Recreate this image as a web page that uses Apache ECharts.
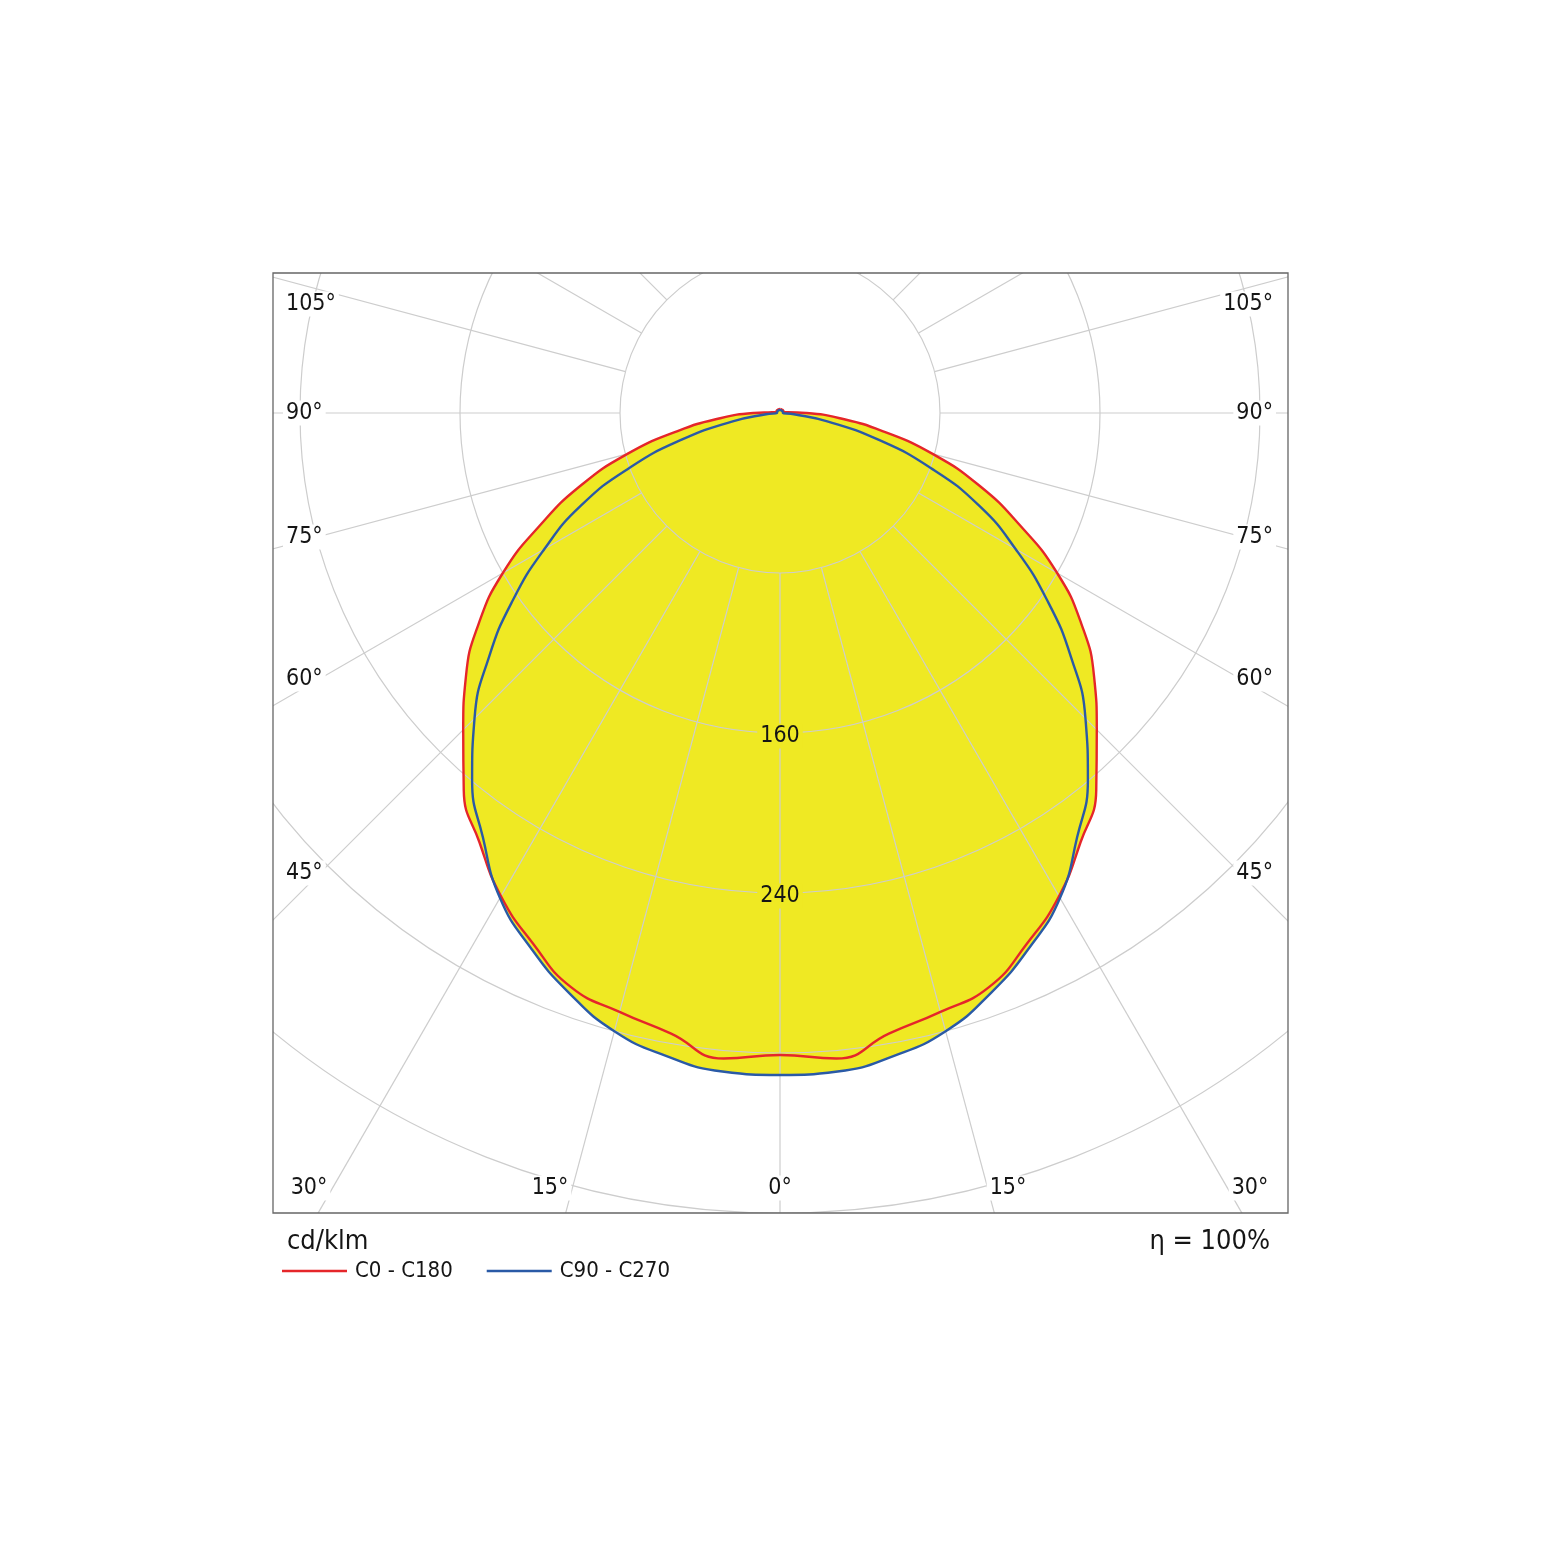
<!DOCTYPE html>
<html>
<head>
<meta charset="utf-8">
<script src="https://cdn.jsdelivr.net/npm/echarts@6/dist/echarts.min.js"></script>
<style>
html,body{margin:0;padding:0;background:#fff;}
#c{width:1560px;height:1561px;}
</style>
</head>
<body>
<div id="c"></div>
<script>
// ---- data (cd/klm) ----
const angles = [0,5,10,15,20,25,30,35,40,45,50,55,60,65,70,75,80,85,90,95,100,105,110,115,120,125,130,135,140,145,150,155,160,165,170,175,180];
const c0c180 = [321,324,315,310,305.5,292.5,279,262,246,224,205,184,160,132,106,79,52,30,13,4,2,2,2,2,2,2,2,2,2,2,2,2,2,2,2,2,2];
const c90c270 = [331,330.5,326.5,320,308.5,295,280,259,239.5,216,190,163,136,110,80,50,24,7,1.5,1.5,1.5,1.5,1.5,1.5,1.5,1.5,1.5,1.5,1.5,1.5,1.5,1.5,1.5,1.5,1.5,1.5,1.5];
const seriesNames = ['C0 - C180', 'C90 - C270'];
const spokeAngles = [0,15,30,45,60,75,90,105,120,135,150,165,180,195,210,225,240,255,270,285,300,315,330,345];
const spokeRange = [80, 480];
const radiusLabels = [160, 240];
const sideLabels = ['105°','90°','75°','60°','45°'];
const bottomLabels = ['30°','15°','0°','15°','30°'];
const unitLabel = 'cd/klm';
const effLabel = 'η = 100%';

// ---- layout / style ----
const FONT = '"DejaVu Sans Condensed","Liberation Sans",sans-serif';
const YELLOW = '#EFE923';
const RED = '#E5262A';
const BLUE = '#2A5AA6';
const GRID = '#CDCDCD';
const TXT = '#151515';
const FRAME = {x:273, y:273, w:1015, h:940};
const sideY = [304,413,537,679,873];
const bottomX = [309,550,780,1008,1250];

function closed(vals){
  const pts = [];
  for (let i = angles.length - 1; i >= 0; i--) pts.push([vals[i], angles[i]]);
  for (let i = 1; i < angles.length; i++) pts.push([vals[i], -angles[i]]);
  return pts;
}

const chart = echarts.init(document.getElementById('c'), null, {renderer:'canvas'});

const series = [];
[c0c180, c90c270].forEach((v, k) => {
  series.push({
    name: 'fill' + k, type: 'line', coordinateSystem: 'polar',
    data: closed(v), smooth: 0.5, symbol: 'none', silent: true,
    lineStyle: {width: 0, opacity: 0},
    areaStyle: {color: YELLOW, opacity: 1},
    z: 1
  });
});
spokeAngles.forEach(a => {
  series.push({
    name: 'spoke' + a, type: 'line', coordinateSystem: 'polar',
    data: [[spokeRange[0], a], [spokeRange[1], a]],
    symbol: 'none', silent: true,
    lineStyle: {color: GRID, width: 1.2},
    z: 3
  });
});
[c0c180, c90c270].forEach((v, k) => {
  const col = k === 0 ? RED : BLUE;
  series.push({
    name: seriesNames[k], type: 'line', coordinateSystem: 'polar',
    data: closed(v), smooth: 0.5, symbol: 'none',
    lineStyle: {color: col, width: 2.4},
    itemStyle: {color: col},
    z: 5
  });
});

chart.setOption({
  animation: false,
  backgroundColor: '#fff',
  polar: {center: [780, 413], radius: 960},
  angleAxis: {
    type: 'value', min: 0, max: 360, startAngle: 270, clockwise: true,
    axisLine: {show: false}, axisTick: {show: false}, axisLabel: {show: false},
    splitLine: {show: false}
  },
  radiusAxis: {
    type: 'value', min: 0, max: 480, interval: 80, z: 3,
    axisLine: {show: false}, axisTick: {show: false}, axisLabel: {show: false},
    splitLine: {show: true, lineStyle: {color: GRID, width: 1.2}}
  },
  legend: {
    data: seriesNames, left: 282, top: 1260, orient: 'horizontal', padding: 0,
    icon: 'rect', itemWidth: 65, itemHeight: 2.5, itemGap: 34,
    selectedMode: false, z: 30,
    textStyle: {fontFamily: FONT, fontSize: 22, color: TXT, padding: [0,0,0,3]}
  },
  series: series
});

// ---- overlay graphics (covers, frame, labels) ----
const g = [];
g.push({type:'rect', shape:{x:0, y:0, width:1560, height:FRAME.y}, style:{fill:'#fff'}, z:20, silent:true});
g.push({type:'rect', shape:{x:0, y:FRAME.y+FRAME.h, width:1560, height:1561-FRAME.y-FRAME.h}, style:{fill:'#fff'}, z:20, silent:true});
g.push({type:'rect', shape:{x:0, y:0, width:FRAME.x, height:1561}, style:{fill:'#fff'}, z:20, silent:true});
g.push({type:'rect', shape:{x:FRAME.x+FRAME.w, y:0, width:1560-FRAME.x-FRAME.w, height:1561}, style:{fill:'#fff'}, z:20, silent:true});
g.push({type:'rect', shape:{x:FRAME.x, y:FRAME.y, width:FRAME.w, height:FRAME.h}, style:{fill:null, stroke:'#666', lineWidth:1.3}, z:21, silent:true});

function label(text, x, y, align, bg){
  return {type:'text', z:22, silent:true,
    style:{text:text, x:x, y:y, align:align, verticalAlign:'middle',
      font:'23px ' + FONT, fill:TXT, backgroundColor:bg, padding:[1,3]}};
}
sideLabels.forEach((t, i) => {
  g.push(label(t, 283, sideY[i], 'left', '#fff'));
  g.push(label(t, 1276, sideY[i], 'right', '#fff'));
});
bottomLabels.forEach((t, i) => g.push(label(t, bottomX[i], 1188, 'center', '#fff')));

radiusLabels.forEach(v => {
  let p = chart.convertToPixel({seriesIndex: 0}, [v, 0]);
  if (!p) p = [780, 413 + v * 2];
  g.push(label(String(v), p[0], p[1] + 3, 'center', YELLOW));
});

g.push({type:'text', z:22, silent:true, style:{text:unitLabel, x:287, y:1242, align:'left', verticalAlign:'middle', font:'27px ' + FONT, fill:TXT}});
g.push({type:'text', z:22, silent:true, style:{text:effLabel, x:1270, y:1242, align:'right', verticalAlign:'middle', font:'27px ' + FONT, fill:TXT}});

chart.setOption({graphic: g});
</script>
</body>
</html>
